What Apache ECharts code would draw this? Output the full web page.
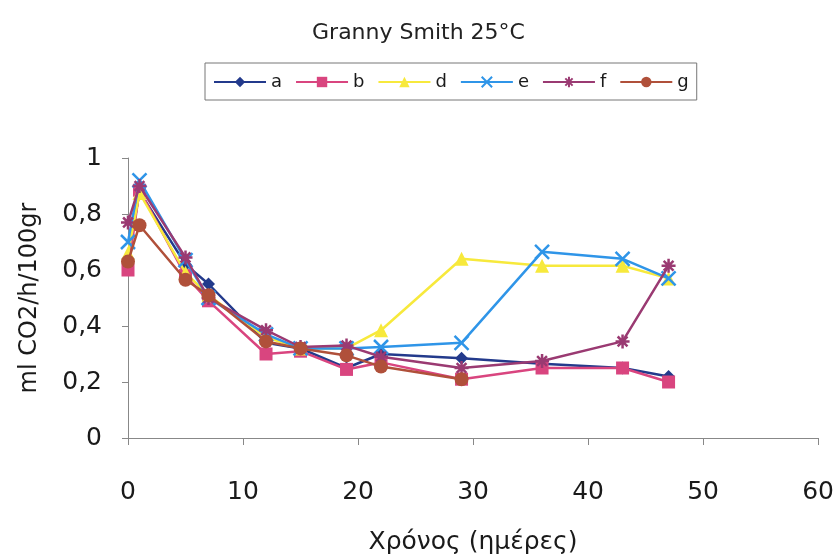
<!DOCTYPE html>
<html><head><meta charset="utf-8">
<script src="https://cdn.jsdelivr.net/npm/echarts@6/dist/echarts.min.js"></script>
<style>html,body{margin:0;padding:0;background:#fff}#c{width:837px;height:560px}</style>
</head><body><div id="c"></div>
<script>
var days = [0, 1, 5, 7, 12, 15, 19, 22, 29, 36, 43, 47];
var seriesNames = ['a', 'b', 'd', 'e', 'f', 'g'];
var a = [0.64, 0.88, 0.62, 0.55, 0.34, 0.32, 0.25, 0.30, 0.285, 0.265, 0.25, 0.22];
var b = [0.60, 0.885, 0.58, 0.49, 0.30, 0.31, 0.245, 0.27, 0.21, 0.25, 0.25, 0.20];
var d = [0.66, 0.875, 0.59, 0.51, 0.36, 0.32, 0.32, 0.385, 0.64, 0.615, 0.615, 0.57];
var e = [0.70, 0.92, 0.635, 0.50, 0.37, 0.32, 0.32, 0.325, 0.34, 0.665, 0.64, 0.57];
var f = [0.77, 0.90, 0.645, 0.50, 0.385, 0.325, 0.33, 0.29, 0.25, 0.275, 0.345, 0.615];
var g = [0.63, 0.76, 0.565, 0.51, 0.345, 0.32, 0.295, 0.255, 0.21];
var yTicks = [0, 0.2, 0.4, 0.6, 0.8, 1];

var FONT = 'DejaVu Sans, Liberation Sans, Arial';
var colors = ['#233a8c', '#d9457f', '#f7e93c', '#2f95e8', '#9a3a72', '#b0503a'];
var symbols = ['diamond', 'rect', 'triangle',
  'path://M0,0L10,10M10,0L0,10',
  'path://M5,0L5,10M0,5L10,5M1.5,1.5L8.5,8.5M8.5,1.5L1.5,8.5',
  'circle'];
var sizes = [13, 13, 14, 14, 14, 14];
var values = [a, b, d, e, f, g];

function pairs(vals) { return vals.map(function (v, i) { return [days[i], v]; }); }

var series = seriesNames.map(function (n, i) {
  var open = i === 3 || i === 4;
  return {
    name: n, type: 'line', data: pairs(values[i]),
    symbol: symbols[i], symbolSize: sizes[i],
    lineStyle: { color: colors[i], width: 2.5 },
    itemStyle: open ? { color: colors[i], borderColor: colors[i], borderWidth: 2.5 } : { color: colors[i], borderWidth: 0 },
    z: 2 + i
  };
});

var chart = echarts.init(document.getElementById('c'), null, { renderer: 'canvas' });
chart.setOption({
  animation: false,
  backgroundColor: '#fff',
  title: {
    text: 'Granny Smith 25°C', left: 'center', top: 17,
    textStyle: { fontFamily: FONT, fontSize: 22, fontWeight: 'normal', color: '#222' }
  },
  legend: {
    data: seriesNames, top: 63, left: 205, width: 495,
    itemWidth: 52, itemHeight: 13, itemGap: 13,
    borderColor: '#777', borderWidth: 1, padding: [10, 8, 9, 8],
    textStyle: { fontFamily: FONT, fontSize: 18, color: '#1a1a1a' }
  },
  grid: { left: 128, right: 13, top: 158, bottom: 122 },
  xAxis: {
    type: 'value', min: 0, max: 60, interval: 10,
    name: 'Χρόνος (ημέρες)', nameLocation: 'middle', nameGap: 92,
    nameTextStyle: { fontFamily: FONT, fontSize: 25, color: '#1a1a1a' },
    axisLine: { lineStyle: { color: '#888', width: 1 } },
    axisTick: { show: true, inside: false, length: 7, lineStyle: { color: '#888' } },
    axisLabel: { fontFamily: FONT, fontSize: 25, color: '#1a1a1a', margin: 42 },
    splitLine: { show: false }
  },
  yAxis: {
    type: 'value', min: 0, max: 1, interval: 0.2,
    name: 'ml CO2/h/100gr', nameLocation: 'middle', nameGap: 86, nameRotate: 90,
    nameTextStyle: { fontFamily: FONT, fontSize: 24, color: '#1a1a1a' },
    axisLine: { show: true, lineStyle: { color: '#888', width: 1 } },
    axisTick: { show: true, inside: false, length: 6, lineStyle: { color: '#888' } },
    axisLabel: {
      fontFamily: FONT, fontSize: 25, color: '#1a1a1a', margin: 26,
      formatter: function (v) {
        var t = yTicks.reduce(function (p, c) { return Math.abs(c - v) < Math.abs(p - v) ? c : p; });
        return String(t).replace('.', ',');
      }
    },
    splitLine: { show: false }
  },
  series: series
});
</script></body></html>
